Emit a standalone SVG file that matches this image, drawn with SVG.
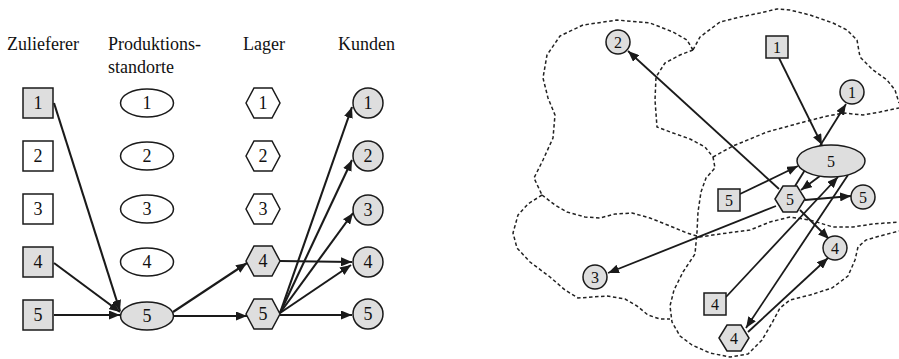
<svg xmlns="http://www.w3.org/2000/svg" width="899" height="359" viewBox="0 0 899 359">
<defs>
<marker id="ah" markerUnits="userSpaceOnUse" markerWidth="12" markerHeight="9" refX="11" refY="4.5" orient="auto">
<path d="M0,0 L11,4.5 L0,9 z" fill="#1a1a1a"/>
</marker>
<style>
text{font-family:'Liberation Serif','DejaVu Serif','Times New Roman',serif;fill:#111}
.hd{font-size:18px}
.n{font-size:18px;text-anchor:middle;dominant-baseline:central}
.s{font-size:16px;text-anchor:middle;dominant-baseline:central}
.w{fill:#fff;stroke:#1a1a1a;stroke-width:1.5}
.g{fill:#dedede;stroke:#1a1a1a;stroke-width:1.5}
.c{fill:none;stroke:#1a1a1a;stroke-width:2.1;marker-end:url(#ah)}
.cr{fill:none;stroke:#1a1a1a;stroke-width:1.8;marker-end:url(#ah)}
.d{fill:none;stroke:#222;stroke-width:1.5;stroke-dasharray:3.5 2.5;stroke-linejoin:round}
</style>
</defs>
<rect width="899" height="359" fill="#fff"/>

<g id="headers">
<text class="hd" x="7" y="50">Zulieferer</text>
<text class="hd" x="108" y="50">Produktions-</text>
<text class="hd" x="108" y="73">standorte</text>
<text class="hd" x="243" y="50">Lager</text>
<text class="hd" x="338" y="50">Kunden</text>
</g>

<g id="regions">
<path class="d" d="M693,50 L687,40 L673,32 L650,23 L617,20 L583,25 L560,36 L547,55 L543,78 L548,98 L555,115 L553,138 L543,160 L534,178 L542,195"/>
<path class="d" d="M542,195 L555,205 L567,212 L585,217 L600,218 L615,214 L632,213 L650,218 L670,226 L687,233 L700,237 L720,234 L750,230 L770,222 L790,217 L810,220 L833,227 L853,227 L873,224 L899,222"/>
<path class="d" d="M542,195 L528,204 L518,215 L513,233 L517,248 L530,262 L550,277 L565,290 L578,298 L592,297 L607,296 L625,299 L637,306 L648,315 L660,319 L670,319"/>
<path class="d" d="M693,50 L680,55 L665,63 L656,77 L655,100 L657,127 L673,133 L690,139 L705,147 L713,157"/>
<path class="d" d="M713,157 L715,168 L706,178 L701,192 L698,212 L697,232 L695,254 L683,272 L674,290 L670,306 L672,322 L680,336 L692,345 L710,353 L730,357 L748,354 L762,340 L772,323 L780,308 L790,300 L810,295 L832,288 L848,276 L855,260 L858,247 L866,240 L880,236 L899,231"/>
<path class="d" d="M713,157 L733,146 L767,132 L800,123 L823,117 L843,113 L863,115 L880,112 L899,108"/>
<path class="d" d="M693,50 L700,37 L720,22 L740,17 L760,13 L777,9 L790,10 L810,15 L833,23 L847,30 L857,40 L860,57 L873,70 L887,80 L895,90 L899,103"/>
</g>

<g id="connectors">
<line class="c" x1="54" y1="103" x2="120" y2="311"/>
<line class="c" x1="54" y1="263" x2="120" y2="312"/>
<line class="c" x1="54" y1="315" x2="120" y2="315"/>
<line class="c" x1="173" y1="312" x2="247" y2="263"/>
<line class="c" x1="174" y1="316" x2="247" y2="316"/>
<line class="c" x1="280" y1="261" x2="352" y2="262"/>
<line class="c" x1="280" y1="313" x2="352" y2="107"/>
<line class="c" x1="280" y1="313" x2="352" y2="160"/>
<line class="c" x1="280" y1="313" x2="353" y2="213"/>
<line class="c" x1="280" y1="313" x2="351" y2="265"/>
<line class="c" x1="280" y1="315" x2="352" y2="315"/>

<line class="cr" x1="779" y1="58" x2="822" y2="145"/>
<line class="cr" x1="795" y1="186" x2="846" y2="104"/>
<line class="cr" x1="740" y1="194" x2="798" y2="166"/>
<line class="cr" x1="820" y1="176" x2="801" y2="190"/>
<line class="cr" x1="805" y1="200" x2="851" y2="196"/>
<line class="cr" x1="800" y1="210" x2="829" y2="239"/>
<line class="cr" x1="779" y1="189" x2="628" y2="51"/>
<line class="cr" x1="776" y1="206" x2="608" y2="273"/>
<line class="cr" x1="726" y1="297" x2="838" y2="177"/>
<line class="cr" x1="848" y1="175" x2="746" y2="328"/>
<line class="cr" x1="748" y1="332" x2="828" y2="258"/>
</g>

<g id="left-z1"><rect class="g" x="23" y="88" width="30" height="30"/><text class="n" x="38" y="103">1</text></g>
<g id="left-z2"><rect class="w" x="23" y="141" width="30" height="30"/><text class="n" x="38" y="156">2</text></g>
<g id="left-z3"><rect class="w" x="23" y="194" width="30" height="30"/><text class="n" x="38" y="209">3</text></g>
<g id="left-z4"><rect class="g" x="23" y="247" width="30" height="30"/><text class="n" x="38" y="262">4</text></g>
<g id="left-z5"><rect class="g" x="23" y="300" width="30" height="30"/><text class="n" x="38" y="315">5</text></g>

<g id="left-p1"><ellipse class="w" cx="147" cy="103" rx="26.5" ry="14"/><text class="n" x="147" y="103">1</text></g>
<g id="left-p2"><ellipse class="w" cx="147" cy="156" rx="26.5" ry="14"/><text class="n" x="147" y="156">2</text></g>
<g id="left-p3"><ellipse class="w" cx="147" cy="209" rx="26.5" ry="14"/><text class="n" x="147" y="209">3</text></g>
<g id="left-p4"><ellipse class="w" cx="147" cy="262" rx="26.5" ry="14"/><text class="n" x="147" y="262">4</text></g>
<g id="left-p5"><ellipse class="g" cx="147" cy="316" rx="26.5" ry="14"/><text class="n" x="147" y="316">5</text></g>

<g id="left-l1"><polygon class="w" points="246,103 254,88 272,88 280,103 272,118 254,118"/><text class="n" x="263" y="103">1</text></g>
<g id="left-l2"><polygon class="w" points="246,156 254,141 272,141 280,156 272,171 254,171"/><text class="n" x="263" y="156">2</text></g>
<g id="left-l3"><polygon class="w" points="246,209 254,194 272,194 280,209 272,224 254,224"/><text class="n" x="263" y="209">3</text></g>
<g id="left-l4"><polygon class="g" points="246,261 254,246 272,246 280,261 272,276 254,276"/><text class="n" x="263" y="261">4</text></g>
<g id="left-l5"><polygon class="g" points="246,314 254,299 272,299 280,314 272,329 254,329"/><text class="n" x="263" y="314">5</text></g>

<g id="left-k1"><circle class="g" cx="368" cy="103" r="15"/><text class="n" x="368" y="103">1</text></g>
<g id="left-k2"><circle class="g" cx="368" cy="156" r="15"/><text class="n" x="368" y="156">2</text></g>
<g id="left-k3"><circle class="g" cx="368" cy="210" r="15"/><text class="n" x="368" y="210">3</text></g>
<g id="left-k4"><circle class="g" cx="368" cy="262" r="15"/><text class="n" x="368" y="262">4</text></g>
<g id="left-k5"><circle class="g" cx="368" cy="314" r="15"/><text class="n" x="368" y="314">5</text></g>

<g id="right-z1"><rect class="g" x="766" y="36" width="22" height="22"/><text class="s" x="777" y="47">1</text></g>
<g id="right-z5"><rect class="g" x="718" y="189" width="22" height="22"/><text class="s" x="729" y="200">5</text></g>
<g id="right-z4"><rect class="g" x="704" y="293" width="22" height="22"/><text class="s" x="715" y="304">4</text></g>
<g id="right-p5"><ellipse class="g" cx="831" cy="161" rx="34" ry="16"/><text class="s" x="831" y="161">5</text></g>
<g id="right-l5"><polygon class="g" points="775,199 783,186 797,186 805,199 797,212 783,212"/><text class="s" x="790" y="199">5</text></g>
<g id="right-l4"><polygon class="g" points="719,338 727,325 741,325 749,338 741,351 727,351"/><text class="s" x="734" y="338">4</text></g>
<g id="right-k1"><circle class="g" cx="852" cy="92" r="12"/><text class="s" x="852" y="92">1</text></g>
<g id="right-k2"><circle class="g" cx="618" cy="42" r="12"/><text class="s" x="618" y="42">2</text></g>
<g id="right-k3"><circle class="g" cx="595" cy="277" r="12"/><text class="s" x="595" y="277">3</text></g>
<g id="right-k4"><circle class="g" cx="835" cy="248" r="12"/><text class="s" x="835" y="248">4</text></g>
<g id="right-k5"><circle class="g" cx="863" cy="197" r="12"/><text class="s" x="863" y="197">5</text></g>
</svg>
